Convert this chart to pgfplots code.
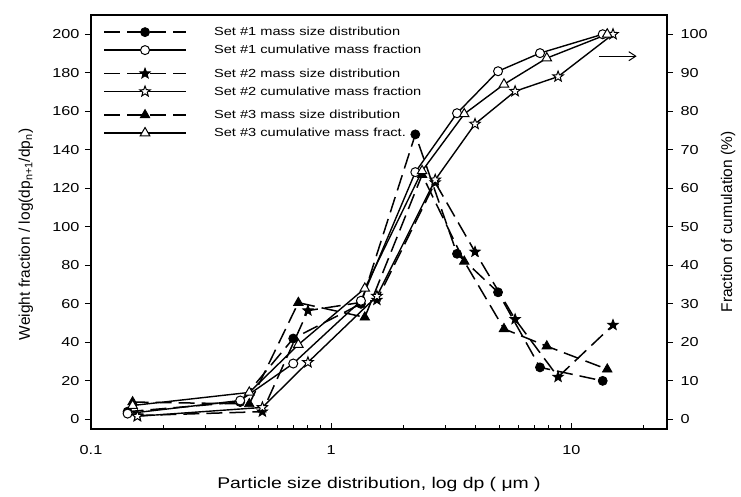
\documentclass[border=0pt]{standalone}
\usepackage{pgfplots}
\pgfplotsset{compat=1.18}
\usepackage{fontspec}
% the reference is stretched sideways: horizontal text gets a wider font
\setmainfont[FakeStretch=1.25]{Liberation Sans}
\newfontfamily\vfont{Liberation Sans}
\usetikzlibrary{arrows.meta}

% filled / open five-pointed star mark
\pgfdeclareplotmark{fivestar}{%
  \pgfpathmoveto{\pgfpointpolar{90}{\pgfplotmarksize}}%
  \pgfpathlineto{\pgfpointpolar{126}{0.42\pgfplotmarksize}}%
  \pgfpathlineto{\pgfpointpolar{162}{\pgfplotmarksize}}%
  \pgfpathlineto{\pgfpointpolar{198}{0.42\pgfplotmarksize}}%
  \pgfpathlineto{\pgfpointpolar{234}{\pgfplotmarksize}}%
  \pgfpathlineto{\pgfpointpolar{270}{0.42\pgfplotmarksize}}%
  \pgfpathlineto{\pgfpointpolar{306}{\pgfplotmarksize}}%
  \pgfpathlineto{\pgfpointpolar{342}{0.42\pgfplotmarksize}}%
  \pgfpathlineto{\pgfpointpolar{18}{\pgfplotmarksize}}%
  \pgfpathlineto{\pgfpointpolar{54}{0.42\pgfplotmarksize}}%
  \pgfpathclose
  \pgfusepathqfillstroke
}

\pgfplotsset{
  mass/.style={black, line width=1.5pt, dash pattern=on 16pt off 7pt,
    mark options={solid, fill=black, line width=0.8pt}},
  cum/.style={black, line width=1.4pt, solid,
    mark options={solid, fill=white, line width=1pt}},
  s1/.style={mark=*, mark size=4.5pt},
  s2/.style={mark=fivestar, mark size=5.5pt},
  s3/.style={mark=triangle*, mark size=5.5pt},
  legend image code/.code={%
    \draw[mark repeat=2, mark phase=2] plot coordinates {(0pt,0pt) (41pt,0pt) (82pt,0pt)};
    \path[draw=none, fill=none] (0pt,0pt) -- (108pt,0pt);},
}

\begin{document}
\begin{tikzpicture}
\begin{axis}[
  name=ax,
  scale only axis, width=576pt, height=414pt,
  xmode=log, xmin=0.1, xmax=25,
  ymin=-5, ymax=210,
  xtick={0.1,1,10}, xticklabels={0.1,1,10},
  minor xtick={0.2,0.3,0.4,0.5,0.6,0.7,0.8,0.9,2,3,4,5,6,7,8,9,20},
  ytick={0,20,...,200},
  xtick pos=lower, ytick pos=left,
  major tick length=6pt, minor tick length=4pt,
  tick align=inside,
  y tick style={xshift=-6pt},
  tick style={black, line width=1pt},
  axis line style={black, line width=1.2pt},
  /pgf/number format/assume math mode=true,
  ticklabel style={font=\fontsize{13}{15}\selectfont},
  xticklabel style={yshift=-13pt},
  yticklabel style={xshift=-8pt},
  xlabel={Particle size distribution, log dp ( μm )},
  ylabel={\vfont Weight fraction / log(dp\textsubscript{n+1}/dp\textsubscript{n})},
  label style={font=\fontsize{15.5}{18}\selectfont},
  xlabel style={at={(axis description cs:0.5,-0.133)}, anchor=center},
  ylabel style={at={(axis description cs:-0.113,0.47)}, anchor=center},
  legend style={at={(axis description cs:0.021,0.976)}, anchor=north west,
    draw=none, fill=none, inner sep=0pt, row sep=4pt,
    font=\fontsize{11.7}{14}\selectfont},
  legend cell align=left,
]
\addplot[mass, s1] coordinates {
  (0.142,4) (0.418,9) (0.695,42) (1.33,60) (2.24,148) (3.34,86) (4.95,66) (7.4,27) (13.5,20)
};
\addlegendentry{Set \#1 mass size distribution}
\addlegendimage{cum, s1}
\addlegendentry{Set \#1 cumulative mass fraction}
\addlegendimage{empty legend}
\addlegendentry[inner sep=0pt]{}
\addplot[mass, s2] coordinates {
  (0.156,2) (0.517,4) (0.80,56.5) (1.55,62) (2.71,123) (3.97,87) (5.83,52) (8.8,22) (14.9,49)
};
\addlegendentry{Set \#2 mass size distribution}
\addlegendimage{cum, s2}
\addlegendentry{Set \#2 cumulative mass fraction}
\addlegendimage{empty legend}
\addlegendentry[inner sep=0pt]{}
\addplot[mass, s3] coordinates {
  (0.149,9) (0.456,8) (0.73,60.6) (1.38,53) (2.39,127) (3.58,82) (5.24,47) (7.9,38) (14.1,26)
};
\addlegendentry{Set \#3 mass size distribution}
\addlegendimage{cum, s3}
\addlegendentry{Set \#3 cumulative mass fract.}
\end{axis}

\begin{axis}[
  scale only axis, width=576pt, height=414pt,
  xmode=log, xmin=0.1, xmax=25,
  ymin=-2.5, ymax=105,
  axis x line=none, axis y line*=right,
  ytick={0,10,...,100},
  major tick length=6pt,
  tick align=outside,
  tick style={black, line width=1pt},
  axis line style={black, line width=1.2pt},
  /pgf/number format/assume math mode=true,
  ticklabel style={font=\fontsize{13}{15}\selectfont},
  yticklabel style={xshift=4pt},
  ylabel={\vfont Fraction of cumulation (\%)},
  label style={font=\fontsize{15.5}{18}\selectfont},
  ylabel style={at={(axis description cs:1.106,0.5)}, anchor=center, rotate=0},
]
\addplot[cum, s1] coordinates {
  (0.142,1.5) (0.418,4.9) (0.695,14.5) (1.33,30.8) (2.24,64.2) (3.34,79.5) (4.95,90.4) (7.4,95.1) (13.5,100)
};
\addplot[cum, s2] coordinates {
  (0.156,0.8) (0.517,3.1) (0.80,14.8) (1.55,32) (2.71,62.2) (3.97,76.7) (5.83,85.2) (8.8,89) (14.9,100)
};
\addplot[cum, s3] coordinates {
  (0.149,3.6) (0.456,7) (0.73,19.4) (1.38,34) (2.39,64.5) (3.58,79.3) (5.24,87) (7.9,93.8) (14.1,100)
};
\draw[black, line width=1pt, -{Straight Barb[length=7pt, width=9pt]}]
  (axis cs:13.0,94.3) -- (axis cs:18.7,94.3);
\end{axis}

\pgfresetboundingbox
\path ([shift={(-91pt,-67pt)}]ax.south west) rectangle ([shift={(74pt,15pt)}]ax.north east);
\end{tikzpicture}
\end{document}
